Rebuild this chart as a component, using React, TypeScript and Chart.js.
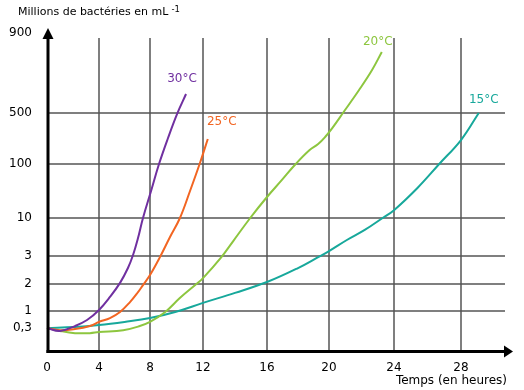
import React, { useEffect, useRef } from 'react';
import { Chart, LinearScale, registerables } from 'chart.js';

// ---------- data ----------
const curveLabels = ['30°C', '25°C', '20°C', '15°C'];

const hours30 = [0, 1, 2.15, 3.08, 4, 4.86, 5.65, 6.27, 6.67, 7.06, 7.45, 8.08, 8.68, 9.36, 10.04, 10.72];
const count30 = [0.3, 0.26, 0.38, 0.63, 1.04, 1.52, 2.04, 2.57, 3.18, 6.3, 10, 55, 100, 304, 492, 595];

const hours25 = [0, 1, 2.15, 3.3, 4, 4.86, 5.65, 6.43, 7.06, 7.45, 8, 8.75, 9.51, 10.26, 11.02, 11.77, 12.3];
const count25 = [0.3, 0.27, 0.285, 0.38, 0.55, 0.71, 0.96, 1.33, 1.7, 1.96, 2.32, 2.96, 6.5, 10, 55, 108, 296];

const hours20 = [0, 1, 2.15, 3.3, 4, 5.9, 7.2, 8, 9.15, 10.25, 11.5, 12, 13.15, 13.9, 14.95, 16, 16.95, 17.85, 18.75, 19.3, 19.75, 20.2, 20.9, 21.85, 22.65, 23.25];
const count20 = [0.3, 0.26, 0.23, 0.23, 0.245, 0.27, 0.38, 0.55, 0.96, 1.48, 2.0, 2.21, 2.96, 5.8, 10, 45, 73, 100, 210, 257, 312, 382, 505, 615, 715, 805];

const hours15 = [0, 2.15, 4, 6, 8, 9.9, 12, 14, 16, 18, 19.3, 20, 21.1, 22.2, 23.3, 24, 25.4, 26.7, 28, 29.05];
const count15 = [0.3, 0.34, 0.42, 0.55, 0.71, 0.96, 1.3, 1.67, 2.07, 2.57, 2.96, 3.9, 5.95, 7.8, 10, 23, 60, 100, 288, 500];

const xTickValues = [0, 4, 8, 12, 16, 20, 24, 28];
const yTickValues = [0.3, 1, 2, 3, 10, 100, 500, 900];
const xGridValues = [4, 8, 12, 16, 20, 24, 28];
const yGridValues = [1, 2, 3, 10, 100, 500];

// graduation of the hand-drawn (non-uniform) axes: value -> distance along axis
const SCALE_BREAKS: Record<string, { values: number[]; spans: number[] }> = {
  x: { values: [0, 4, 8, 12, 16, 20, 24, 28, 30.6], spans: [0, 52, 103, 156, 220, 282, 347, 414, 458] },
  y: { values: [0, 0.3, 1, 2, 3, 10, 100, 500, 900, 925], spans: [0, 22, 39, 66, 94, 132, 186, 237, 317, 322] },
};

// ---------- styles ----------
const colors = ['#7030a0', '#f26522', '#8dc63f', '#17a89b'];
const labelOffsets = [[-4, -15], [14, -17], [-4, -10], [5, -13]];
const FONT = '"DejaVu Sans", Verdana, sans-serif';

class GraduatedScale extends LinearScale {
  static id = 'graduated';
  static defaults = {};
  determineDataLimits() {
    const b = SCALE_BREAKS[(this as any).id];
    (this as any).min = b.values[0];
    (this as any).max = b.values[b.values.length - 1];
  }
  buildTicks() {
    const vals = (this as any).id === 'x' ? xTickValues : yTickValues;
    return vals.map((v) => ({ value: v }));
  }
  getPixelForValue(value: number) {
    const { values, spans } = SCALE_BREAKS[(this as any).id];
    const n = values.length;
    let i = 0;
    while (i < n - 2 && value > values[i + 1]) i++;
    const f = (value - values[i]) / (values[i + 1] - values[i]);
    const s = spans[i] + f * (spans[i + 1] - spans[i]);
    return (this as any).getPixelForDecimal(s / spans[n - 1]);
  }
  getValueForPixel(pixel: number) {
    const { values, spans } = SCALE_BREAKS[(this as any).id];
    const n = values.length;
    const s = (this as any).getDecimalForPixel(pixel) * spans[n - 1];
    let i = 0;
    while (i < n - 2 && s > spans[i + 1]) i++;
    const f = (s - spans[i]) / (spans[i + 1] - spans[i]);
    return values[i] + f * (values[i + 1] - values[i]);
  }
}

Chart.register(...registerables, GraduatedScale as any);

const decorPlugin = {
  id: 'decor',
  beforeDatasetsDraw(chart: any) {
    const { ctx, chartArea, scales } = chart;
    const x = scales.x;
    const y = scales.y;
    ctx.save();
    ctx.strokeStyle = '#555555';
    ctx.lineWidth = 1.5;
    for (const v of xGridValues) {
      const px = x.getPixelForValue(v);
      ctx.beginPath();
      ctx.moveTo(px, chartArea.top + 10);
      ctx.lineTo(px, chartArea.bottom);
      ctx.stroke();
    }
    for (const v of yGridValues) {
      const py = y.getPixelForValue(v);
      ctx.beginPath();
      ctx.moveTo(chartArea.left, py);
      ctx.lineTo(chartArea.right, py);
      ctx.stroke();
    }
    ctx.restore();
  },
  afterDatasetsDraw(chart: any) {
    const { ctx, chartArea, scales } = chart;
    const x = scales.x;
    const y = scales.y;
    ctx.save();
    const x0 = x.getPixelForValue(0) + 1;
    const y0 = y.getPixelForValue(0) + 1.5;
    ctx.strokeStyle = '#000';
    ctx.fillStyle = '#000';
    ctx.lineWidth = 3;
    // y axis
    ctx.beginPath();
    ctx.moveTo(x0, y0 + 1.5);
    ctx.lineTo(x0, chartArea.top + 8);
    ctx.stroke();
    ctx.beginPath();
    ctx.moveTo(x0, chartArea.top);
    ctx.lineTo(x0 - 5.5, chartArea.top + 11);
    ctx.lineTo(x0 + 5.5, chartArea.top + 11);
    ctx.closePath();
    ctx.fill();
    // x axis
    ctx.beginPath();
    ctx.moveTo(x0 - 1.5, y0);
    ctx.lineTo(chartArea.right + 2, y0);
    ctx.stroke();
    ctx.beginPath();
    ctx.moveTo(chartArea.right + 8, y0);
    ctx.lineTo(chartArea.right - 1, y0 - 6);
    ctx.lineTo(chartArea.right - 1, y0 + 6);
    ctx.closePath();
    ctx.fill();

    // axis titles
    ctx.textBaseline = 'alphabetic';
    ctx.textAlign = 'left';
    ctx.font = '11px ' + FONT;
    const t = 'Millions de bactéries en mL';
    ctx.fillText(t, 18, 15);
    const w = ctx.measureText(t).width;
    ctx.font = '8.5px ' + FONT;
    ctx.fillText('-1', 18 + w + 3, 12);
    ctx.font = '12px ' + FONT;
    ctx.textAlign = 'right';
    ctx.fillText('Temps (en heures)', 507, 384);

    // curve labels
    ctx.textAlign = 'center';
    ctx.textBaseline = 'middle';
    ctx.font = '12px ' + FONT;
    chart.data.datasets.forEach((ds: any, i: number) => {
      const meta = chart.getDatasetMeta(i);
      const last = meta.data[meta.data.length - 1];
      ctx.fillStyle = colors[i];
      ctx.fillText(curveLabels[i], last.x + labelOffsets[i][0], last.y + labelOffsets[i][1]);
    });
    ctx.restore();
  },
};

const toPoints = (xs: number[], ys: number[]) => xs.map((h, i) => ({ x: h, y: ys[i] }));

export default function App() {
  const ref = useRef<HTMLCanvasElement>(null);
  useEffect(() => {
    document.body.style.margin = '0';
    const series = [
      toPoints(hours30, count30),
      toPoints(hours25, count25),
      toPoints(hours20, count20),
      toPoints(hours15, count15),
    ];
    const chart = new Chart(ref.current as HTMLCanvasElement, {
      type: 'line',
      data: {
        datasets: series.map((d, i) => ({
          label: curveLabels[i],
          data: d,
          borderColor: colors[i],
          backgroundColor: colors[i],
          borderWidth: 2,
          pointRadius: 0,
          fill: false,
          tension: 0.4,
        })),
      },
      options: {
        responsive: false,
        devicePixelRatio: 1,
        animation: false,
        events: [],
        layout: { padding: { top: 28, right: 19, left: 0, bottom: 0 } },
        plugins: { legend: { display: false }, tooltip: { enabled: false } },
        scales: {
          x: {
            type: 'graduated' as any,
            grid: { display: false },
            border: { display: false },
            afterFit: (s: any) => { s.height = 40; },
            ticks: {
              autoSkip: false,
              maxRotation: 0,
              padding: 3,
              color: '#000',
              font: { family: FONT, size: 12 },
              callback: (v: any) => String(v),
            },
          },
          y: {
            type: 'graduated' as any,
            grid: { display: false },
            border: { display: false },
            afterFit: (s: any) => { s.width = 47; },
            ticks: {
              autoSkip: false,
              padding: 7,
              color: '#000',
              font: { family: FONT, size: 12 },
              callback: (v: any) => String(v).replace('.', ','),
            },
          },
        } as any,
      } as any,
      plugins: [decorPlugin as any],
    });
    return () => chart.destroy();
  }, []);
  return (
    <div style={{ width: 524, height: 390 }}>
      <canvas ref={ref} width={524} height={390} style={{ display: 'block' }} />
    </div>
  );
}
